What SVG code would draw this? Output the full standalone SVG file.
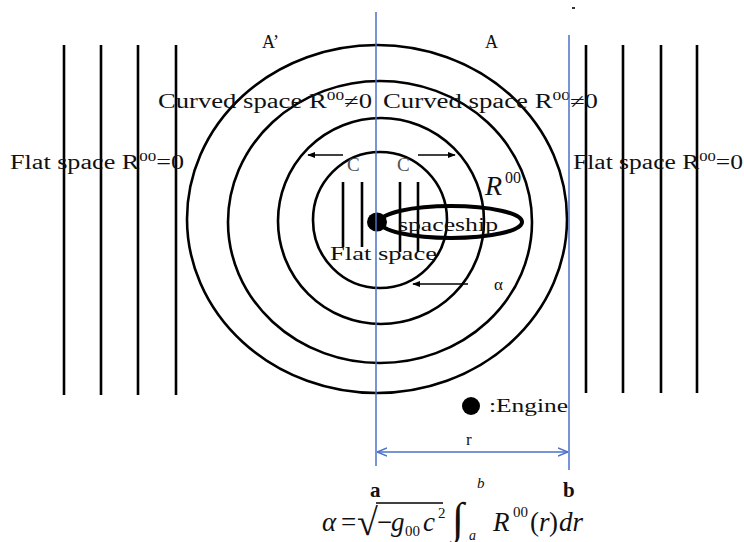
<svg xmlns="http://www.w3.org/2000/svg" width="744" height="542" viewBox="0 0 744 542">
<defs>
<style>
.k{fill:none;stroke:#000;stroke-width:2.6}
.t{font-family:"Liberation Serif","DejaVu Serif",serif;fill:#111}
.ti{font-family:"Liberation Serif","DejaVu Serif",serif;font-style:italic;fill:#111}
.b{stroke:#4a72c8;stroke-width:1.5;fill:none}
.g{fill:#555}
</style>
<marker id="ah" viewBox="0 0 10 10" refX="9" refY="5" markerWidth="8" markerHeight="8" orient="auto-start-reverse" markerUnits="userSpaceOnUse">
<path d="M0,1 L10,5 L0,9 Z" fill="#000"/>
</marker>
<marker id="bh" viewBox="0 0 10 10" refX="10" refY="5" markerWidth="10" markerHeight="10" orient="auto-start-reverse" markerUnits="userSpaceOnUse">
<path d="M0,1 L10,5 L0,9" fill="none" stroke="#4a72c8" stroke-width="1.4"/>
</marker>
</defs>
<rect width="744" height="542" fill="#fff"/>

<g id="flat-left">
<line class="k" x1="64" y1="45" x2="64" y2="395"/>
<line class="k" x1="101" y1="45" x2="101" y2="395"/>
<line class="k" x1="138" y1="45" x2="138" y2="395"/>
<line class="k" x1="176" y1="45" x2="176" y2="395"/>
<text class="t" x="10" y="169" font-size="20" textLength="174" lengthAdjust="spacingAndGlyphs">Flat space R<tspan font-size="13" dy="-8">00</tspan><tspan dy="8">=0</tspan></text>
</g>

<g id="flat-right">
<line class="k" x1="586" y1="45" x2="586" y2="393"/>
<line class="k" x1="623" y1="45" x2="623" y2="393"/>
<line class="k" x1="661" y1="45" x2="661" y2="393"/>
<line class="k" x1="697" y1="45" x2="697" y2="393"/>
<text class="t" x="573" y="169" font-size="20" textLength="170" lengthAdjust="spacingAndGlyphs">Flat space R<tspan font-size="13" dy="-8">00</tspan><tspan dy="8">=0</tspan></text>
</g>

<g id="curved-space">
<ellipse class="k" cx="377" cy="219" rx="190" ry="174"/>
<ellipse class="k" cx="380" cy="222" rx="152" ry="141"/>
<ellipse class="k" cx="381" cy="221" rx="103" ry="103"/>
<ellipse class="k" cx="380" cy="220" rx="67" ry="68"/>
<text class="t" x="262" y="48" font-size="18">A’</text>
<text class="t" x="485" y="48" font-size="18">A</text>
<text class="t" x="158" y="108" font-size="20" textLength="214" lengthAdjust="spacingAndGlyphs">Curved space R<tspan font-size="13" dy="-8">00</tspan><tspan dy="8">≠0</tspan></text>
<text class="t" x="383" y="108" font-size="20" textLength="215" lengthAdjust="spacingAndGlyphs">Curved space R<tspan font-size="13" dy="-8">00</tspan><tspan dy="8">≠0</tspan></text>
<text class="ti" x="485" y="195" font-size="28">R</text>
<text class="t" x="505" y="183" font-size="16">00</text>
</g>

<g id="inner-flat">
<line class="k" x1="343" y1="182" x2="343" y2="247"/>
<line class="k" x1="362" y1="182" x2="362" y2="247"/>
<line class="k" x1="400" y1="182" x2="400" y2="252"/>
<line class="k" x1="418" y1="182" x2="418" y2="252"/>
<text class="t g" x="347" y="171" font-size="19">C</text>
<text class="t g" x="397" y="171" font-size="19">C</text>
<text class="t" x="330" y="260" font-size="19" textLength="107" lengthAdjust="spacingAndGlyphs">Flat space</text>
</g>

<g id="spaceship">
<ellipse cx="451" cy="222" rx="71" ry="16" fill="none" stroke="#000" stroke-width="4"/>
<ellipse cx="377" cy="222" rx="10" ry="9.5" fill="#000"/>
<text class="t" x="398" y="231" font-size="19" textLength="100" lengthAdjust="spacingAndGlyphs">spaceship</text>
</g>

<g id="engine-legend">
<circle cx="471" cy="406" r="9" fill="#000"/>
<text class="t" x="489" y="412" font-size="19" textLength="79" lengthAdjust="spacingAndGlyphs">:Engine</text>
</g>

<g id="alpha-label">
<text class="t" x="494" y="290" font-size="17">α</text>
</g>

<g id="connectors">
<line x1="343" y1="155" x2="308" y2="155" stroke="#000" stroke-width="1.6" marker-end="url(#ah)"/>
<line x1="418" y1="155" x2="455" y2="155" stroke="#000" stroke-width="1.6" marker-end="url(#ah)"/>
<line x1="468" y1="284" x2="413" y2="284" stroke="#000" stroke-width="1.6" marker-end="url(#ah)"/>
<line class="b" x1="376" y1="12" x2="376" y2="466"/>
<line class="b" x1="569" y1="35" x2="569" y2="470"/>
<line class="b" x1="377" y1="452" x2="568" y2="452" marker-start="url(#bh)" marker-end="url(#bh)"/>
<rect x="572" y="7" width="3" height="2" fill="#333"/>
</g>

<g id="r-label">
<text class="t" x="466" y="445" font-size="17">r</text>
</g>

<g id="formula">
<text class="t" x="370" y="497" font-size="21" font-weight="bold">a</text>
<text class="t" x="563" y="497" font-size="21" font-weight="bold">b</text>
<text class="ti" x="322" y="531" font-size="27">α</text>
<text class="t" x="341" y="531" font-size="27">=</text>
<text class="t" x="357" y="535" font-size="38">√</text>
<line x1="376" y1="503" x2="443" y2="503" stroke="#000" stroke-width="1.3"/>
<text class="t" x="377" y="531" font-size="27">−</text>
<text class="ti" x="391" y="531" font-size="27">g</text>
<text class="t" x="405" y="536" font-size="15">00</text>
<text class="ti" x="423" y="531" font-size="27">c</text>
<text class="t" x="438" y="518" font-size="15">2</text>
<text class="t" x="452" y="533" font-size="44">∫</text>
<text class="ti" x="477" y="488" font-size="15">b</text>
<text class="ti" x="469" y="540" font-size="14">a</text>
<text class="ti" x="493" y="531" font-size="27">R</text>
<text class="t" x="513" y="517" font-size="15">00</text>
<text class="t" x="530" y="531" font-size="27">(</text>
<text class="ti" x="539" y="531" font-size="27">r</text>
<text class="t" x="549" y="531" font-size="27">)</text>
<text class="ti" x="559" y="531" font-size="27">dr</text>
</g>
</svg>
